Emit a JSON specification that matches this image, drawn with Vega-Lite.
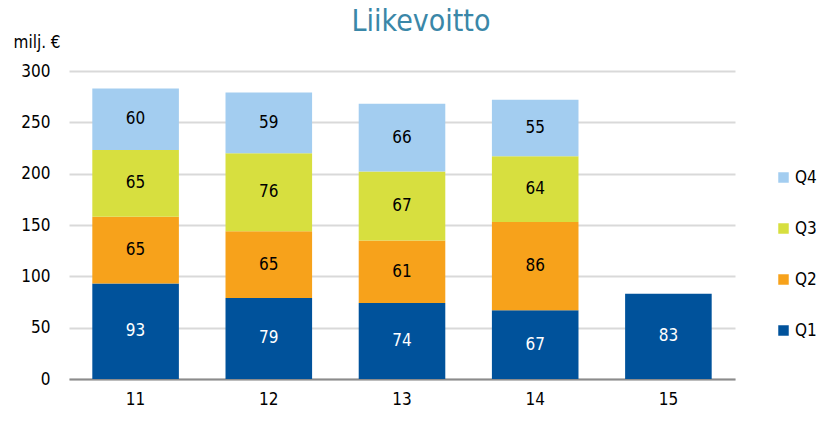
{
  "$schema": "https://vega.github.io/schema/vega-lite/v6.json",
  "width": 666,
  "height": 308,
  "autosize": {"type": "none"},
  "padding": {"left": 69, "top": 71, "right": 96, "bottom": 42},
  "background": "white",
  "title": {
    "text": "Liikevoitto",
    "font": "DejaVu Sans Condensed",
    "fontSize": 30,
    "fontWeight": "normal",
    "color": "#3A87A8",
    "anchor": "middle",
    "dx": 19,
    "offset": -4
  },
  "config": {
    "view": {"stroke": null},
    "font": "DejaVu Sans Condensed"
  },
  "data": {
    "values": [
      {"year": "11", "q": "Q1", "v": 93},
      {"year": "11", "q": "Q2", "v": 65},
      {"year": "11", "q": "Q3", "v": 65},
      {"year": "11", "q": "Q4", "v": 60},
      {"year": "12", "q": "Q1", "v": 79},
      {"year": "12", "q": "Q2", "v": 65},
      {"year": "12", "q": "Q3", "v": 76},
      {"year": "12", "q": "Q4", "v": 59},
      {"year": "13", "q": "Q1", "v": 74},
      {"year": "13", "q": "Q2", "v": 61},
      {"year": "13", "q": "Q3", "v": 67},
      {"year": "13", "q": "Q4", "v": 66},
      {"year": "14", "q": "Q1", "v": 67},
      {"year": "14", "q": "Q2", "v": 86},
      {"year": "14", "q": "Q3", "v": 64},
      {"year": "14", "q": "Q4", "v": 55},
      {"year": "15", "q": "Q1", "v": 83}
    ]
  },
  "encoding": {
    "x": {
      "field": "year",
      "type": "nominal",
      "scale": {"paddingInner": 0.35, "paddingOuter": 0.175},
      "axis": {
        "title": null,
        "labelAngle": 0,
        "labelFontSize": 17,
        "labelColor": "#000",
        "labelPadding": 12,
        "ticks": false,
        "domainColor": "#8C8C8C",
        "domainWidth": 2
      }
    },
    "y": {
      "field": "v",
      "type": "quantitative",
      "stack": "zero",
      "scale": {"domain": [0, 300]},
      "axis": {
        "values": [0, 50, 100, 150, 200, 250, 300],
        "title": "milj. €",
        "titleAngle": 0,
        "titleAlign": "left",
        "titleBaseline": "middle",
        "titleX": -56,
        "titleY": -29,
        "titleFontSize": 17,
        "titleFontWeight": "normal",
        "titleColor": "#000",
        "labelFontSize": 17,
        "labelColor": "#000",
        "labelPadding": 19,
        "ticks": false,
        "domain": false,
        "gridColor": "#D9D9D9",
        "gridWidth": 2
      }
    },
    "order": {"field": "q", "sort": "ascending"}
  },
  "layer": [
    {
      "mark": {"type": "bar"},
      "encoding": {
        "color": {
          "field": "q",
          "type": "nominal",
          "scale": {
            "domain": ["Q4", "Q3", "Q2", "Q1"],
            "range": ["#A3CDF0", "#D7DF3F", "#F7A21B", "#00529B"]
          },
          "legend": {
            "title": null,
            "orient": "none",
            "legendX": 706,
            "legendY": 98,
            "symbolType": "square",
            "symbolSize": 110,
            "symbolStrokeWidth": 0,
            "labelFontSize": 17,
            "labelColor": "#000",
            "rowPadding": 33,
            "labelOffset": 3
          }
        }
      }
    },
    {
      "mark": {"type": "text", "fontSize": 17, "baseline": "middle"},
      "encoding": {
        "y": {"field": "v", "type": "quantitative", "stack": "zero", "bandPosition": 0.5},
        "text": {"field": "v", "type": "quantitative"},
        "color": {
          "condition": {"test": "datum.q === 'Q1'", "value": "white"},
          "value": "black"
        }
      }
    }
  ]
}
